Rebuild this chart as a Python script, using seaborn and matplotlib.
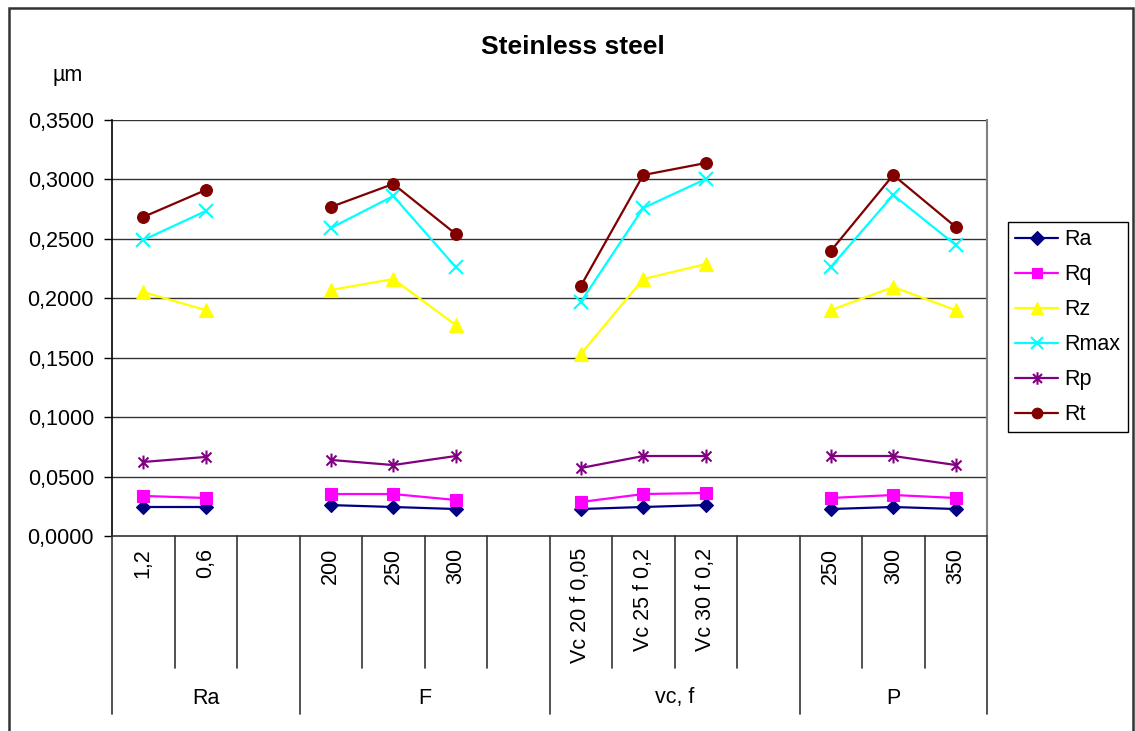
import numpy as np
import pandas as pd
import matplotlib
matplotlib.use("Agg")
import matplotlib.pyplot as plt
from matplotlib.path import Path
from matplotlib.lines import Line2D
from matplotlib.patches import Rectangle
import seaborn as sns

# Category axis: 14 slots, grouped in four parameter groups (blank slot ends a group)
slot_labels = ["1,2", "0,6", "", "200", "250", "300", "",
               "Vc 20 f 0,05", "Vc 25 f 0,2", "Vc 30 f 0,2", "", "250", "300", "350"]
group_names = ["Ra", "F", "vc, f", "P"]
group_slots = [[0, 1], [3, 4, 5], [7, 8, 9], [11, 12, 13]]
group_bounds = [0, 3, 7, 11, 14]

# Roughness values (µm) per group, one list per parameter
Ra = [[0.0244, 0.0244], [0.0260, 0.0244, 0.0227], [0.0227, 0.0244, 0.0260], [0.0227, 0.0244, 0.0227]]
Rq = [[0.0337, 0.0320], [0.0353, 0.0353, 0.0303], [0.0286, 0.0353, 0.0362], [0.0320, 0.0345, 0.0320]]
Rz = [[0.2053, 0.1900], [0.2070, 0.2162, 0.1775], [0.1531, 0.2162, 0.2288], [0.1900, 0.2095, 0.1900]]
Rmax = [[0.2490, 0.2734], [0.2591, 0.2860, 0.2263], [0.1969, 0.2760, 0.3003], [0.2263, 0.2869, 0.2448]]
Rp = [[0.0623, 0.0665], [0.0640, 0.0597, 0.0673], [0.0572, 0.0673, 0.0673], [0.0673, 0.0673, 0.0597]]
Rt = [[0.2684, 0.2911], [0.2768, 0.2962, 0.2541], [0.2103, 0.3037, 0.3138], [0.2398, 0.3037, 0.2600]]

series_names = ["Ra", "Rq", "Rz", "Rmax", "Rp", "Rt"]
series_values = [Ra, Rq, Rz, Rmax, Rp, Rt]

asterisk = Path([(0, -1), (0, 1), (-0.72, -0.72), (0.72, 0.72), (-0.72, 0.72), (0.72, -0.72)],
                [Path.MOVETO, Path.LINETO, Path.MOVETO, Path.LINETO, Path.MOVETO, Path.LINETO])
styles = {
    "Ra": dict(color="#000080", marker="D", ms=7.5, filled=True),
    "Rq": dict(color="#FF00FF", marker="s", ms=8, filled=True),
    "Rz": dict(color="#FFFF00", marker="^", ms=10, filled=True),
    "Rmax": dict(color="#00FFFF", marker="x", ms=9.5, filled=False),
    "Rp": dict(color="#800080", marker=asterisk, ms=10, filled=False),
    "Rt": dict(color="#800000", marker="o", ms=8.5, filled=True),
}

rows = []
for name, vals in zip(series_names, series_values):
    for g, (slots, gv) in enumerate(zip(group_slots, vals)):
        for s, v in zip(slots, gv):
            rows.append(dict(series=name, group=g, x=s + 0.5, value=v))
df = pd.DataFrame(rows)

sns.set_theme(style="white")
plt.rcParams["font.family"] = ["Liberation Sans", "DejaVu Sans"]
plt.rcParams["text.color"] = "black"
plt.rcParams["ytick.labelcolor"] = "black"

FS = 15.5

fig = plt.figure(figsize=(11.35, 7.31), dpi=100)
ax = fig.add_axes([112 / 1135, 1 - 536 / 731, 875 / 1135, 416 / 731])

ymax = 0.35
for yv in np.arange(0.05, ymax + 0.001, 0.05):
    ax.axhline(yv, color="#333333", lw=1.0, zorder=0)

for name in series_names:
    st = styles[name]
    for g in range(len(group_slots)):
        sub = df[(df.series == name) & (df.group == g)]
        kw = dict(marker=st["marker"], markersize=st["ms"], color=st["color"],
                  markeredgecolor=st["color"], markeredgewidth=1.5 if not st["filled"] else 0.8)
        if st["filled"]:
            kw["markerfacecolor"] = st["color"]
        sns.lineplot(data=sub, x="x", y="value", ax=ax, lw=1.6, legend=False,
                     estimator=None, sort=False, zorder=3, **kw)

ax.set_xlim(0, 14)
ax.set_ylim(0, ymax)
ax.set_xlabel("")
ax.set_ylabel("")
ax.set_xticks([])
ax.set_yticks(np.arange(0, ymax + 0.001, 0.05))
ax.set_yticklabels([f"{v:.4f}".replace(".", ",") for v in np.arange(0, ymax + 0.001, 0.05)])
ax.tick_params(axis="y", which="both", left=True, length=6, width=1, color="black",
               labelsize=FS, labelcolor="black", pad=7)

ax.spines["top"].set_visible(False)
ax.spines["left"].set_color("black")
ax.spines["left"].set_linewidth(1.2)
ax.spines["bottom"].set_color("#333333")
ax.spines["bottom"].set_linewidth(1.2)
ax.spines["right"].set_color("#808080")
ax.spines["right"].set_linewidth(1.5)

# Hierarchical category axis drawn below the plot area
tr = ax.get_xaxis_transform()
inner_end = -132 / 416
group_end = -178 / 416
for k in range(15):
    end = group_end if k in group_bounds else inner_end
    ax.plot([k, k], [0, end], transform=tr, clip_on=False, color="#333333", lw=1.2)
for i, lab in enumerate(slot_labels):
    if lab:
        ax.text(i + 0.5, -12 / 416, lab, transform=tr, rotation=90, ha="center", va="top",
                fontsize=FS)
for g, name in enumerate(group_names):
    cx = (group_bounds[g] + group_bounds[g + 1]) / 2
    ax.text(cx, -162 / 416, name, transform=tr, ha="center", va="center", fontsize=FS)

fig.text(573 / 1135, 1 - 47 / 731, "Steinless steel", ha="center", va="center",
         fontsize=19, fontweight="bold")
fig.text(68 / 1135, 1 - 75 / 731, "µm", ha="center", va="center", fontsize=FS)

handles = []
for name in series_names:
    st = styles[name]
    h = Line2D([], [], color=st["color"], lw=1.6, marker=st["marker"], markersize=st["ms"] * 0.9,
               markeredgecolor=st["color"],
               markerfacecolor=st["color"] if st["filled"] else "none",
               markeredgewidth=1.5 if not st["filled"] else 0.8)
    handles.append(h)
leg = fig.legend(handles, series_names, loc="upper left",
                 bbox_to_anchor=(1008 / 1135, 1 - 222 / 731), fontsize=FS,
                 frameon=True, fancybox=False, framealpha=1, edgecolor="black",
                 handlelength=2.0, labelspacing=0.65, borderpad=0.33, handletextpad=0.3,
                 borderaxespad=0)
leg.get_frame().set_linewidth(1.0)

# Outer chart border
fig.patches.append(Rectangle((9 / 1135, -0.02), 1124 / 1135, 1 - 8 / 731 + 0.02,
                             transform=fig.transFigure, fill=False, edgecolor="#333333",
                             lw=1.8))

fig.savefig("out.png", dpi=100)
